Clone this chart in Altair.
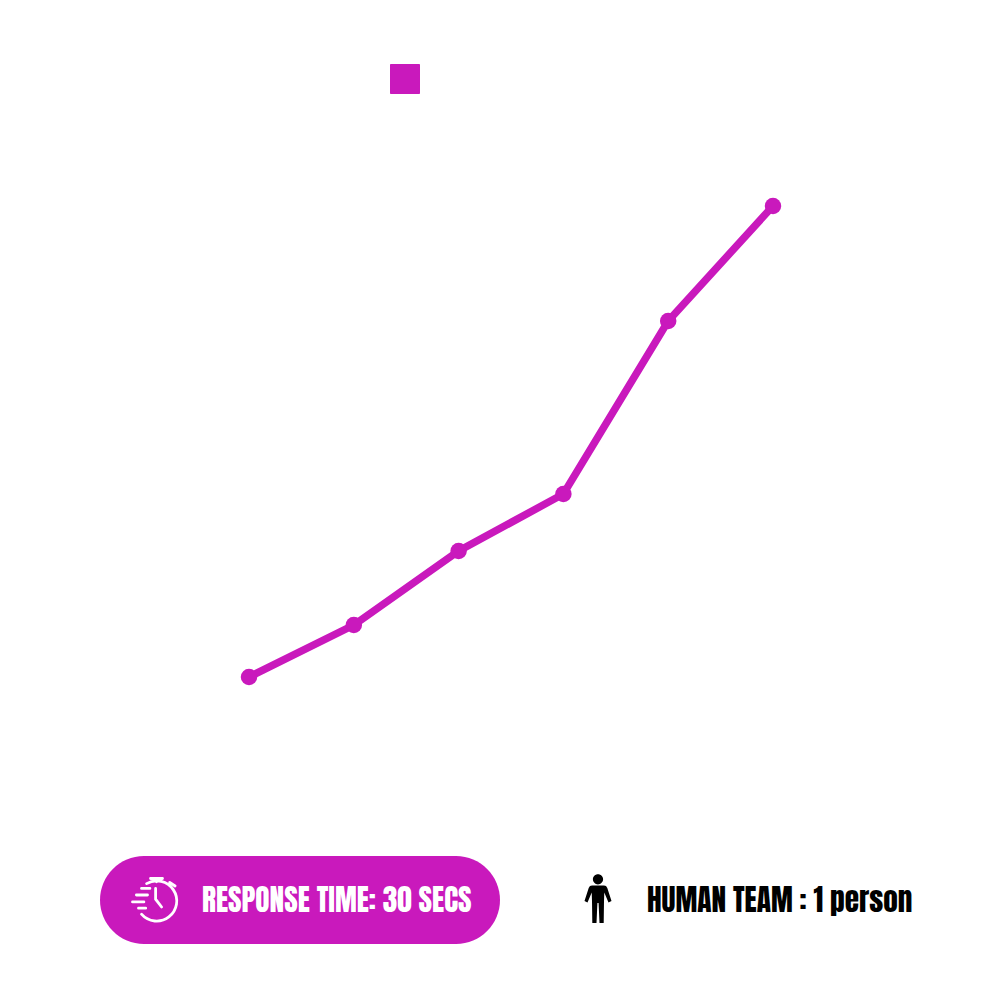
import altair as alt
import pandas as pd

steps = [1, 2, 3, 4, 5, 6]
values = [315, 367, 441, 498, 671, 786]
color = "#C919BC"
badge_text = "RESPONSE TIME: 30 SECS"
team_text = "HUMAN TEAM : 1 person"
WATCH = ("M-.33 -.58A.67 .67 0 1 1 -.5 .44M-.2 -.75H.2M0 -.75V-.64M.44 -.62L.62 -.5"
         "M-.5 -.42H-.22M-.67 -.2H-.3M-.8 .03H-.42M-.6 .24H-.36M-.03 -.42V-.06L.17 .2")
PERSON = ("M0 -.86A.167 .167 0 1 1 0 -.52A.167 .167 0 1 1 0 -.86Z"
          "M-.2 -.48H.2Q.28 -.48 .31 -.4L.45 .03L.35 .08L.21 -.25L.2 .03L.19 .77H.05L.02 .1H-.02L-.05 .77H-.19L-.2 .03L-.21 -.25L-.35 .08L-.45 .03L-.31 -.4Q-.28 -.48 -.2 -.48Z")

df = pd.DataFrame({"step": steps, "value": values})
x = alt.X("step:Q", axis=None, scale=alt.Scale(domain=[-1.3, 8.09], nice=False, zero=False))
y = alt.Y("value:Q", axis=None, scale=alt.Scale(domain=[0, 984], nice=False, zero=False))
base = alt.Chart(df)
line = base.mark_line(color=color, strokeWidth=7.5).encode(x=x, y=y)
pts = base.mark_point(color=color, filled=True, opacity=1, size=272).encode(x=x, y=y)

one = alt.Chart(pd.DataFrame({"a": [0]}))
legend = one.mark_rect(color=color, cornerRadius=1).encode(
    x=alt.value(382), x2=alt.value(412), y=alt.value(56), y2=alt.value(86))
pill = one.mark_rect(color=color, cornerRadius=44).encode(
    x=alt.value(92), x2=alt.value(492), y=alt.value(848), y2=alt.value(936))
watch = one.mark_point(shape=WATCH, filled=False, color="white", strokeWidth=2.8, size=3600, opacity=1, strokeCap="round").encode(
    x=alt.value(148.5), y=alt.value(893))
person = one.mark_point(shape=PERSON, filled=True, color="black", size=3600, opacity=1).encode(
    x=alt.value(590), y=alt.value(892))
t1 = one.mark_text(text=badge_text, font="Anton", fontSize=29.3, color="white",
                   align="left", baseline="middle").encode(x=alt.value(194), y=alt.value(895))
t2 = one.mark_text(text=team_text, font="Anton", fontSize=29.3, color="black",
                   align="left", baseline="middle").encode(x=alt.value(639), y=alt.value(895))

chart = alt.layer(line, pts, legend, pill, watch, person, t1, t2).properties(
    width=984, height=984, padding=0, autosize=alt.AutoSizeParams(type="none")
).configure_view(stroke=None)
chart.save("out.html", embed_options={"renderer": "svg", "actions": False})
